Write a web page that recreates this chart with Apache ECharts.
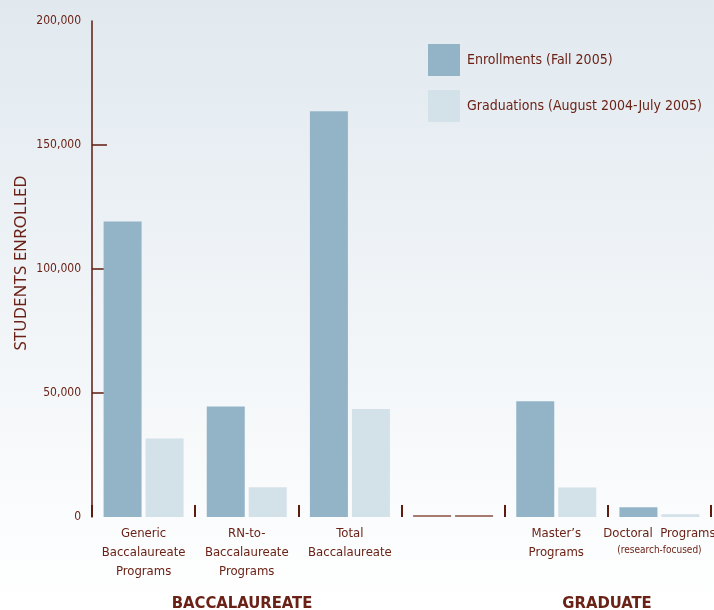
<!DOCTYPE html>
<html>
<head>
<meta charset="utf-8">
<script src="https://cdn.jsdelivr.net/npm/echarts@6/dist/echarts.min.js"></script>
<style>
  html, body { margin: 0; padding: 0; }
  #chart { width: 714px; height: 610px; }
</style>
</head>
<body>
<div id="chart"></div>
<script>
// Nursing program enrollments and graduations by program type
var categories = [
  'Generic\nBaccalaureate\nPrograms',
  'RN-to-\nBaccalaureate\nPrograms',
  'Total\nBaccalaureate',
  '',
  'Master\u2019s\nPrograms',
  'Doctoral  Programs\n(research-focused)'
];
var seriesNames = ['Enrollments (Fall 2005)', 'Graduations (August 2004-July 2005)'];
var enrollments = [119200, 44600, 163600, 0, 46700, 3900];
var graduations = [31700, 12000, 43500, 0, 11900, 1100];
var yTickValues = [0, 50000, 100000, 150000, 200000];
var groupLabels = ['BACCALAUREATE', 'GRADUATE'];

var MAROON = '#6b2216';
var AXIS = '#5e1b10';
var NARROW = '"DejaVu Sans Condensed", "Liberation Sans Narrow", "Liberation Sans", sans-serif';
var PLACEHOLDER = '#a47a70';

function toItems(values) {
  return values.map(function (v) {
    return v === 0 ? { value: v, itemStyle: { color: PLACEHOLDER } } : v;
  });
}

var chart = echarts.init(document.getElementById('chart'), null, { renderer: 'canvas' });

chart.setOption({
  animation: false,
  backgroundColor: {
    type: 'linear', x: 0, y: 0, x2: 0, y2: 1,
    colorStops: [
      { offset: 0, color: '#e1e9ef' },
      { offset: 1, color: '#ffffff' }
    ]
  },
  grid: { left: 92, right: 3, top: 21, bottom: 93, containLabel: false, outerBoundsMode: 'none' },
  legend: {
    orient: 'vertical',
    left: 428,
    top: 44,
    padding: 0,
    itemWidth: 32,
    itemHeight: 32,
    itemGap: 14,
    icon: 'rect',
    data: seriesNames,
    textStyle: { color: MAROON, fontFamily: NARROW, fontSize: 14, padding: [0, 0, 0, 2] }
  },
  xAxis: {
    type: 'category',
    data: categories,
    boundaryGap: true,
    axisLine: { show: false },
    axisTick: {
      show: true, inside: true, length: 12, alignWithLabel: false,
      lineStyle: { color: AXIS, width: 2 }
    },
    axisLabel: {
      interval: 0,
      margin: 7,
      color: MAROON,
      fontFamily: NARROW,
      fontSize: 13,
      lineHeight: 19,
      formatter: function (v) { return v.replace(/\((.*)\)/, '{s|($1)}'); },
      rich: { s: { fontSize: 10, lineHeight: 14, color: MAROON, fontFamily: NARROW } }
    }
  },
  yAxis: {
    type: 'value',
    min: 0,
    max: 200000,
    interval: 50000,
    splitLine: { show: false },
    axisLine: { show: true, lineStyle: { color: AXIS, width: 1.5 } },
    axisTick: {
      show: true, inside: true, length: 15,
      customValues: yTickValues.slice(1, -1),
      lineStyle: { color: AXIS, width: 1.5 }
    },
    axisLabel: {
      margin: 11,
      color: MAROON,
      fontFamily: NARROW,
      fontSize: 12,
      customValues: yTickValues,
      formatter: function (v) { return v.toLocaleString('en-US'); }
    }
  },
  series: [
    {
      name: seriesNames[0],
      type: 'bar',
      barWidth: 38,
      barGap: '10.5%',
      barMinHeight: 2,
      itemStyle: { color: '#93b4c7' },
      data: toItems(enrollments),
      z: 3
    },
    {
      name: seriesNames[1],
      type: 'bar',
      barWidth: 38,
      barGap: '10.5%',
      barMinHeight: 2,
      itemStyle: { color: '#d3e1e8' },
      data: toItems(graduations),
      z: 3
    }
  ],
  graphic: [
    {
      type: 'text',
      x: 21, y: 263,
      rotation: Math.PI / 2,
      style: {
        text: 'STUDENTS ENROLLED',
        fill: MAROON,
        font: '17px "Noto Sans", sans-serif',
        align: 'center',
        verticalAlign: 'middle'
      }
    },
    {
      type: 'text',
      x: 242, y: 595,
      style: {
        text: groupLabels[0],
        fill: MAROON,
        font: 'bold 16.5px ' + NARROW,
        align: 'center',
        verticalAlign: 'top'
      }
    },
    {
      type: 'text',
      x: 607, y: 595,
      style: {
        text: groupLabels[1],
        fill: MAROON,
        font: 'bold 16.5px ' + NARROW,
        align: 'center',
        verticalAlign: 'top'
      }
    }
  ]
});
</script>
</body>
</html>
